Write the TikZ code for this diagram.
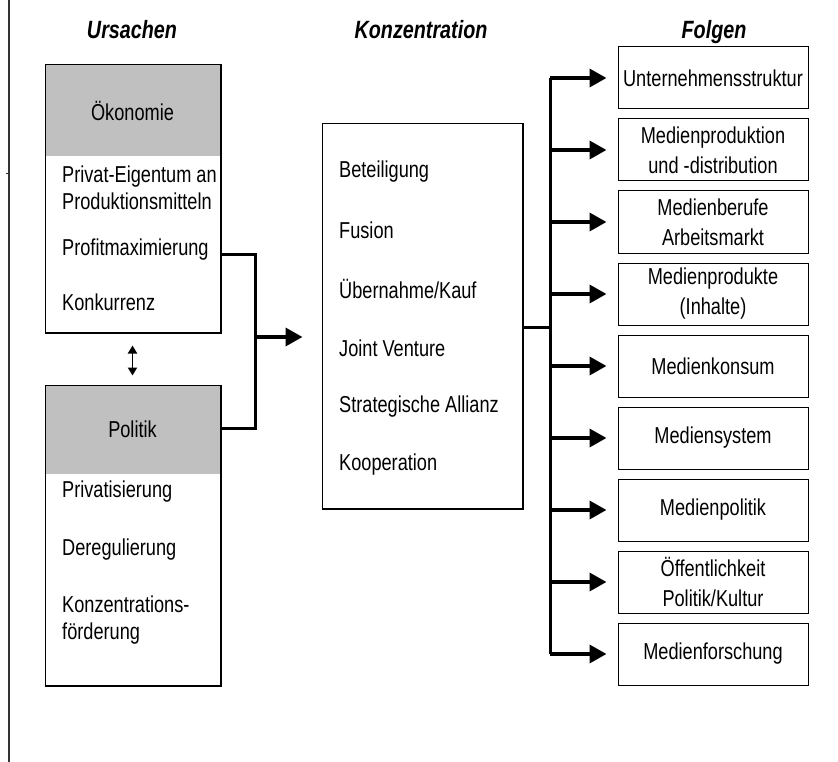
\documentclass[tikz,border=0pt]{standalone}
\usepackage{fontspec}
\setmainfont[FakeStretch=0.79]{Liberation Sans}
\usetikzlibrary{arrows.meta,positioning}
\definecolor{headgray}{RGB}{192,192,192}
\tikzstyle{konzstyle}=[
    x=1pt, y=-1pt,
    font=\fontsize{23}{27}\selectfont,
    >={Triangle[length=17pt,width=18pt]},
    every node/.style={inner sep=0pt},
]
\tikzstyle{coltitle}=[anchor=base, font=\fontsize{25}{27}\selectfont\bfseries\itshape]
\tikzstyle{bigbox}=[draw, line width=1pt, minimum width=175pt]
\tikzstyle{head}=[fill=headgray, minimum width=175pt, anchor=north]
\tikzstyle{item}=[anchor=west, align=left]
\tikzstyle{folgebox}=[draw, line width=1pt, minimum width=190pt, minimum height=62pt,
    align=center, font=\fontsize{23}{30}\selectfont]
\tikzstyle{conn}=[line width=3pt]
\tikzstyle{arr}=[line width=3.5pt, ->]
\tikzstyle{dbl}=[line width=1.8pt, {Triangle[length=8pt,width=9pt]}-{Triangle[length=8pt,width=9pt]}]

\begin{document}
\begin{tikzpicture}[konzstyle]
    \useasboundingbox (0,0) rectangle (838,762);
    \draw[line width=1.3pt, black!80] (9,0) -- (9,762);
    \draw[line width=1pt, black!80] (6,174) -- (9,174);

    % titles
    \node[coltitle] (ursachen) at (132,39) {Ursachen};
    \node[coltitle] (konzentration) at (421,39) {Konzentration};
    \node[coltitle] (folgen) at (714,39) {Folgen};

    % Ursachen
    \node[head, minimum height=91pt] (oekohead) at (132.5,65) {Ökonomie};
    \node[bigbox, minimum height=267pt] (oeko) at (132.5,198.5) {};
    \draw[line width=2pt] (oeko.north east) -- (oeko.south east) -- (oeko.south west);
    \node[item] (privat) at (62,188) {Privat-Eigentum an\\Produktionsmitteln};
    \node[item] (profit) at (62,250) {Profitmaximierung};
    \node[item] (konkurrenz) at (62,302) {Konkurrenz};

    \node[head, minimum height=89pt] (polhead) at (132.5,385) {Politik};
    \node[bigbox, minimum height=300pt] (pol) at (132.5,535) {};
    \draw[line width=2pt] (pol.north east) -- (pol.south east) -- (pol.south west);
    \node[item] (privatis) at (62,492) {Privatisierung};
    \node[item] (dereg) at (62,550) {Deregulierung};
    \node[item] (foerder) at (62,620) {Konzentrations-\\förderung};

    \draw[dbl] ([yshift=-13pt]oeko.south) -- ([yshift=9pt]pol.north);

    % Konzentration
    \node[draw, line width=1pt, minimum width=200pt, minimum height=384pt] (konz) at (422,316) {};
    \draw[line width=2pt] (konz.north east) -- (konz.south east) -- (konz.south west);
    \node[item] (beteil) at (339,172) {Beteiligung};
    \node[item] (fusion) at (339,230) {Fusion};
    \node[item] (kauf) at (339,289) {Übernahme/Kauf};
    \node[item] (joint) at (339,348) {Joint Venture};
    \node[item] (allianz) at (339,407) {Strategische Allianz};
    \node[item] (koop) at (339,465) {Kooperation};

    % Folgen
    \node[folgebox] (f1) at (713,78) {Unternehmensstruktur};
    \node[folgebox] (f2) at (713,150) {Medienproduktion\\und -distribution};
    \node[folgebox] (f3) at (713,222) {Medienberufe\\Arbeitsmarkt};
    \node[folgebox] (f4) at (713,294) {Medienprodukte\\(Inhalte)};
    \node[folgebox] (f5) at (713,366) {Medienkonsum};
    \node[folgebox] (f6) at (713,438) {Mediensystem};
    \node[folgebox] (f7) at (713,510) {Medienpolitik};
    \node[folgebox] (f8) at (713,582) {Öffentlichkeit\\Politik/Kultur};
    \node[folgebox] (f9) at (713,654) {Medienforschung};

    % connectors
    \coordinate (ojoin) at (255,254);
    \coordinate (pjoin) at (255,428);
    \coordinate (ljoin) at (255,337);
    \draw[conn] (oeko.east |- ojoin) -- (ojoin) -- (pjoin) -- (pol.east |- pjoin);
    \draw[arr, shorten >=19pt] (ljoin) -- (konz.west |- ljoin);

    \coordinate (rjoin) at (550,327);
    \draw[conn] (konz.east |- rjoin) -- (rjoin);
    \draw[conn] (rjoin |- f1) -- (rjoin |- f9);
    \draw[arr, shorten >=11pt] (rjoin |- f1) -- (f1.west);
    \draw[arr, shorten >=11pt] (rjoin |- f2) -- (f2.west);
    \draw[arr, shorten >=11pt] (rjoin |- f3) -- (f3.west);
    \draw[arr, shorten >=11pt] (rjoin |- f4) -- (f4.west);
    \draw[arr, shorten >=11pt] (rjoin |- f5) -- (f5.west);
    \draw[arr, shorten >=11pt] (rjoin |- f6) -- (f6.west);
    \draw[arr, shorten >=11pt] (rjoin |- f7) -- (f7.west);
    \draw[arr, shorten >=11pt] (rjoin |- f8) -- (f8.west);
    \draw[arr, shorten >=11pt] (rjoin |- f9) -- (f9.west);
\end{tikzpicture}
\end{document}
